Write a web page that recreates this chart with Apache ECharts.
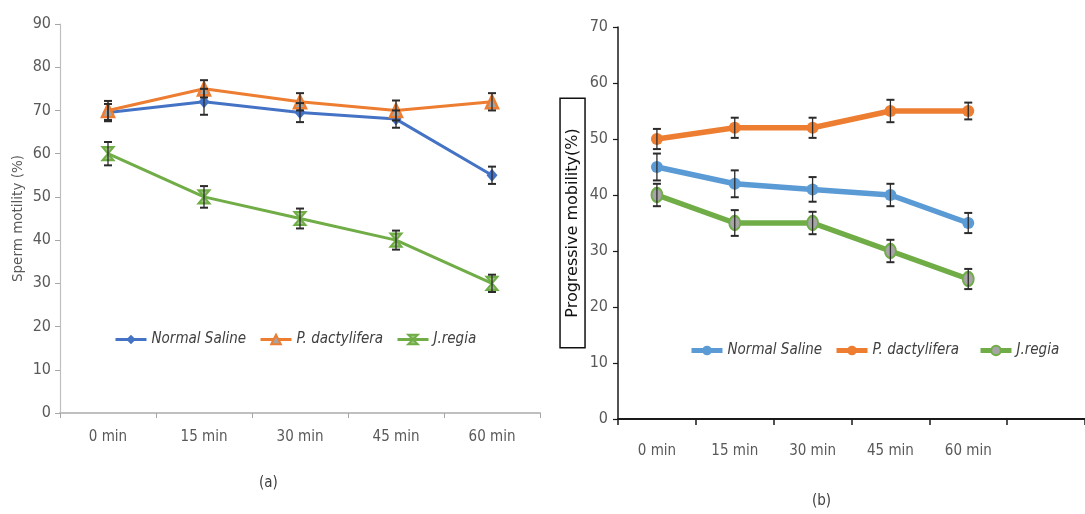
<!DOCTYPE html>
<html>
<head>
<meta charset="utf-8">
<script src="https://cdn.jsdelivr.net/npm/echarts@6/dist/echarts.min.js"></script>
<style>html,body{margin:0;padding:0;background:#fff;}#c{width:1085px;height:514px;}</style>
</head>
<body>
<div id="c"></div>
<script>
// ---- data ----
const categoriesA = ['0 min', '15 min', '30 min', '45 min', '60 min'];
const categoriesB = ['0 min', '15 min', '30 min', '45 min', '60 min', ''];
const yTicksA = [0, 10, 20, 30, 40, 50, 60, 70, 80, 90];
const yTicksB = [0, 10, 20, 30, 40, 50, 60, 70];
const seriesNames = ['Normal Saline', 'P. dactylifera', 'J.regia'];

const salineA = [69.5, 72, 69.5, 68, 55];
const dactyliferaA = [70, 75, 72, 70, 72];
const regiaA = [60, 50, 45, 40, 30];
const salineErrA = [2, 3, 2.2, 2, 2];
const dactyliferaErrA = [2.2, 2, 2, 2.3, 2];
const regiaErrA = [2.7, 2.5, 2.3, 2.2, 2];

const salineB = [45, 42, 41, 40, 35];
const dactyliferaB = [50, 52, 52, 55, 55];
const regiaB = [40, 35, 35, 30, 25];
const salineErrB = [2.4, 2.4, 2.2, 2, 1.8];
const dactyliferaErrB = [1.8, 1.8, 1.8, 2, 1.5];
const regiaErrB = [2, 2.3, 2, 2, 1.8];

// ---- helpers ----
const ZW = '\u200b';
const narrow = "'Liberation Sans Narrow', 'DejaVu Sans Condensed', 'Arial Narrow', sans-serif";

function errData(vals, errs) {
  return vals.map((v, i) => [i, v - errs[i], v + errs[i]]);
}
function errSeries(vals, errs, idx, cap) {
  return {
    type: 'custom', xAxisIndex: idx, yAxisIndex: idx, z: 5, silent: true,
    data: errData(vals, errs),
    encode: { x: 0, y: [1, 2] },
    renderItem: function (params, api) {
      const x = api.value(0);
      const lo = api.coord([x, api.value(1)]);
      const hi = api.coord([x, api.value(2)]);
      const st = { stroke: '#2b2b2b', lineWidth: 1.3 };
      return {
        type: 'group',
        children: [
          { type: 'line', shape: { x1: lo[0], y1: lo[1], x2: hi[0], y2: hi[1] }, style: st },
          { type: 'line', shape: { x1: lo[0] - cap, y1: lo[1], x2: lo[0] + cap, y2: lo[1] }, style: { stroke: '#2b2b2b', lineWidth: 2 } },
          { type: 'line', shape: { x1: hi[0] - cap, y1: hi[1], x2: hi[0] + cap, y2: hi[1] }, style: { stroke: '#2b2b2b', lineWidth: 2 } }
        ]
      };
    }
  };
}

const hourglass = 'path://M0,0L10,0L0,10L10,10Z';

const legendText = { fontFamily: narrow, fontSize: 15, fontStyle: 'italic', color: '#404040' };
function leg(name, left, top, lw) {
  return {
    data: [name], left: left, top: top, itemWidth: 31, itemHeight: 12, itemGap: 0,
    padding: 0, selectedMode: false, textStyle: legendText,
    lineStyle: { width: lw },
    formatter: n => n.replace(ZW, '')
  };
}

const axisLabelA = { fontFamily: narrow, fontSize: 16, color: '#595959' };

const option = {
  animation: false,
  backgroundColor: '#ffffff',
  grid: [
    { left: 60, top: 24, width: 480, height: 389 },
    { left: 618, top: 27, width: 480, height: 392 }
  ],
  legend: [
    leg(seriesNames[0], 114, 332, 3),
    leg(seriesNames[1], 259, 332, 3),
    leg(seriesNames[2], 396, 332, 3),
    leg(seriesNames[0] + ZW, 689, 343, 5),
    leg(seriesNames[1] + ZW, 834, 343, 5),
    leg(seriesNames[2] + ZW, 978, 343, 5)
  ],
  xAxis: [
    {
      type: 'category', gridIndex: 0, data: categoriesA, boundaryGap: true,
      axisLine: { lineStyle: { color: '#bfbfbf', width: 2 } },
      axisTick: { show: true, length: 5, lineStyle: { color: '#a6a6a6' } },
      axisLabel: { margin: 17, fontSize: 15, fontFamily: narrow, color: '#595959' },
      splitLine: { show: false }
    },
    {
      type: 'category', gridIndex: 1, data: categoriesB, boundaryGap: true,
      axisLine: { lineStyle: { color: '#1a1a1a', width: 2 } },
      axisTick: { show: true, length: 6, lineStyle: { color: '#1a1a1a', width: 1.5 } },
      axisLabel: { margin: 25, fontSize: 15, fontFamily: narrow, color: '#595959' },
      splitLine: { show: false }
    }
  ],
  yAxis: [
    {
      type: 'value', gridIndex: 0, min: yTicksA[0], max: yTicksA[yTicksA.length - 1], interval: 10,
      name: 'Sperm motility (%)', nameLocation: 'middle', nameGap: 35,
      nameTextStyle: { fontFamily: "'DejaVu Sans', sans-serif", fontSize: 13.5, color: '#595959' },
      axisLine: { show: true, lineStyle: { color: '#bfbfbf', width: 1.2 } },
      axisTick: { show: true, length: 5, lineStyle: { color: '#a6a6a6' } },
      axisLabel: Object.assign({ margin: 9 }, axisLabelA),
      splitLine: { show: false }
    },
    {
      type: 'value', gridIndex: 1, min: yTicksB[0], max: yTicksB[yTicksB.length - 1], interval: 10,
      name: 'Progressive mobility(%)', nameLocation: 'middle', nameGap: 30,
      nameTextStyle: {
        fontFamily: "'DejaVu Sans', sans-serif", fontSize: 16, color: '#111',
        borderColor: '#111', borderWidth: 1.5, padding: [4, 30, 4, 30], lineHeight: 17
      },
      axisLine: { show: true, lineStyle: { color: '#1a1a1a', width: 1.5 } },
      axisTick: { show: true, length: 5, lineStyle: { color: '#1a1a1a', width: 1.2 } },
      axisLabel: Object.assign({ margin: 10 }, axisLabelA),
      splitLine: { show: false }
    }
  ],
  graphic: [
    { type: 'text', left: 259, top: 476, style: { text: '(a)', font: "15px " + narrow, fill: '#404040' } },
    { type: 'text', left: 812, top: 494, style: { text: '(b)', font: "15px " + narrow, fill: '#404040' } }
  ],
  series: [
    {
      name: seriesNames[0], type: 'line', xAxisIndex: 0, yAxisIndex: 0, data: salineA,
      symbol: 'diamond', symbolSize: [11, 13], z: 3,
      lineStyle: { color: '#4472C4', width: 3 },
      itemStyle: { color: '#4472C4' }
    },
    {
      name: seriesNames[1], type: 'line', xAxisIndex: 0, yAxisIndex: 0, data: dactyliferaA,
      symbol: 'triangle', symbolSize: [12, 13], z: 4,
      lineStyle: { color: '#ED7D31', width: 3 },
      itemStyle: { color: '#A5A5A5', borderColor: '#ED7D31', borderWidth: 2.5 }
    },
    {
      name: seriesNames[2], type: 'line', xAxisIndex: 0, yAxisIndex: 0, data: regiaA,
      symbol: hourglass, symbolSize: [11, 13], z: 3,
      lineStyle: { color: '#70AD47', width: 3 },
      itemStyle: { color: '#9bc77f', borderColor: '#70AD47', borderWidth: 2 }
    },
    {
      name: seriesNames[0] + ZW, type: 'line', xAxisIndex: 1, yAxisIndex: 1, data: salineB,
      symbol: 'circle', symbolSize: 12, z: 3,
      lineStyle: { color: '#5B9BD5', width: 5.5 },
      itemStyle: { color: '#5B9BD5' }
    },
    {
      name: seriesNames[1] + ZW, type: 'line', xAxisIndex: 1, yAxisIndex: 1, data: dactyliferaB,
      symbol: 'circle', symbolSize: 12, z: 3,
      lineStyle: { color: '#ED7D31', width: 5.5 },
      itemStyle: { color: '#ED7D31' }
    },
    {
      name: seriesNames[2] + ZW, type: 'line', xAxisIndex: 1, yAxisIndex: 1, data: regiaB,
      symbol: 'circle', symbolSize: [11, 14], z: 3,
      lineStyle: { color: '#70AD47', width: 5.5 },
      itemStyle: { color: '#A5A5A5', borderColor: '#70AD47', borderWidth: 2 }
    },
    errSeries(salineA, salineErrA, 0, 4),
    errSeries(dactyliferaA, dactyliferaErrA, 0, 4),
    errSeries(regiaA, regiaErrA, 0, 4),
    errSeries(salineB, salineErrB, 1, 4),
    errSeries(dactyliferaB, dactyliferaErrB, 1, 4),
    errSeries(regiaB, regiaErrB, 1, 4)
  ]
};

const chart = echarts.init(document.getElementById('c'), null, { renderer: 'canvas' });
chart.setOption(option);
</script>
</body>
</html>
